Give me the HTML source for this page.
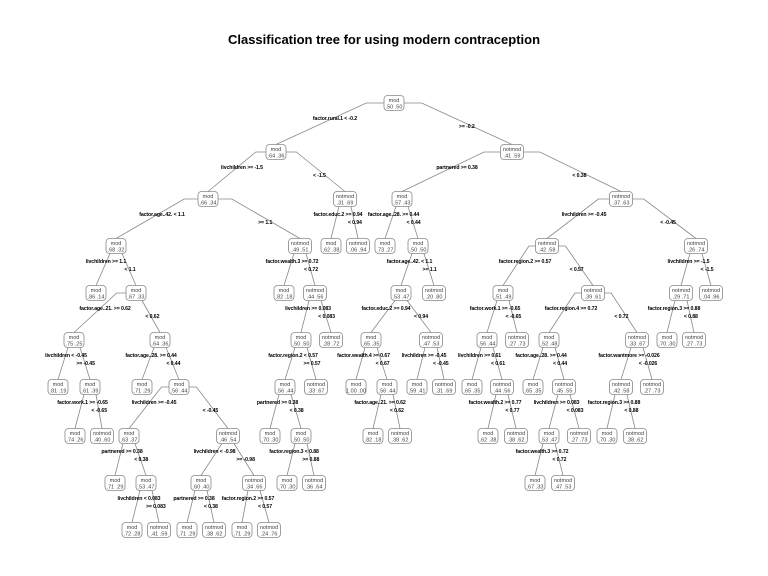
<!DOCTYPE html>
<html><head><meta charset="utf-8">
<style>
html,body{margin:0;padding:0;background:#fff;}
svg{display:block;}
.t{font-family:"Liberation Sans",sans-serif;font-weight:bold;font-size:13px;fill:#000;}
.n{font-family:"Liberation Sans",sans-serif;font-size:5.5px;fill:#444;}
.s{font-family:"Liberation Sans",sans-serif;font-size:5.2px;fill:#000;font-weight:bold;letter-spacing:-0.1px;}
</style></head>
<body>
<svg id="g" width="768" height="576" viewBox="0 0 768 576" xmlns="http://www.w3.org/2000/svg">
<rect width="768" height="576" fill="#fff"/>
<text class="t" x="384" y="44" text-anchor="middle">Classification tree for using modern contraception</text>
</svg>
<script>
function N(x,y,c,p,ll,rl,l,r){return {x:x,y:y,c:c,p:p,ll:ll,rl:rl,l:l,r:r};}
function L(x,y,c,p){return {x:x,y:y,c:c,p:p};}
var T=N(394,103,'mod','.50 .50','factor.rural.1 < -0.2','>= -0.2',
 N(276,152,'mod','.64 .36','livchildren >= -1.5','< -1.5',
  N(208,199,'mod','.66 .34','factor.age..42. < 1.1','>= 1.1',
   N(116,246,'mod','.68 .32','livchildren >= 1.1','< 1.1',
    L(96,293,'mod','.86 .14'),
    N(136,293,'mod','.67 .33','factor.age..21. >= 0.62','< 0.62',
     N(74,340,'mod','.75 .25','livchildren < -0.45','>= -0.45',
      L(58,387,'mod','.81 .19'),
      N(90,387,'mod','.61 .39','factor.work.1 >= -0.65','< -0.65',
       L(75,436,'mod','.74 .26'),L(102,436,'notmod','.40 .60'))),
     N(160,340,'mod','.64 .36','factor.age..28. >= 0.44','< 0.44',
      L(142,387,'mod','.71 .29'),
      N(179,387,'mod','.56 .44','livchildren >= -0.45','< -0.45',
       N(129,436,'mod','.63 .37','partnered >= 0.38','< 0.38',
        L(115,483,'mod','.71 .29'),
        N(146,483,'mod','.53 .47','livchildren < 0.083','>= 0.083',
         L(132,530,'mod','.72 .28'),L(159,530,'notmod','.41 .59'))),
       N(228,436,'notmod','.46 .54','livchildren < -0.98','>= -0.98',
        N(201,483,'mod','.60 .40','partnered >= 0.38','< 0.38',
         L(187,530,'mod','.71 .29'),L(214,530,'notmod','.38 .62')),
        N(254,483,'notmod','.34 .66','factor.region.2 >= 0.57','< 0.57',
         L(242,530,'mod','.71 .29'),L(269,530,'notmod','.24 .76'))))))),
   N(300,246,'notmod','.49 .51','factor.wealth.3 >= 0.72','< 0.72',
    L(284,293,'mod','.82 .18'),
    N(315,293,'notmod','.44 .56','livchildren >= 0.083','< 0.083',
     N(301,340,'mod','.50 .50','factor.region.2 < 0.57','>= 0.57',
      N(285,387,'mod','.56 .44','partnered >= 0.38','< 0.38',
       L(270,436,'mod','.70 .30'),
       N(301,436,'mod','.50 .50','factor.region.3 < 0.88','>= 0.88',
        L(287,483,'mod','.70 .30'),L(314,483,'notmod','.36 .64'))),
      L(316,387,'notmod','.33 .67')),
     L(331,340,'notmod','.28 .72')))),
  N(345,199,'notmod','.31 .69','factor.educ.2 >= 0.94','< 0.94',
   L(331,246,'mod','.62 .38'),L(358,246,'notmod','.06 .94'))),
 N(512,152,'notmod','.41 .59','partnered >= 0.38','< 0.38',
  N(402,199,'mod','.57 .43','factor.age..28. >= 0.44','< 0.44',
   L(385,246,'mod','.73 .27'),
   N(418,246,'mod','.50 .50','factor.age..42. < 1.1','>= 1.1',
    N(401,293,'mod','.53 .47','factor.educ.2 >= 0.94','< 0.94',
     N(371,340,'mod','.65 .35','factor.wealth.4 >= 0.67','< 0.67',
      L(356,387,'mod','1.00 .00'),
      N(387,387,'mod','.56 .44','factor.age..21. >= 0.62','< 0.62',
       L(373,436,'mod','.82 .18'),L(400,436,'notmod','.38 .62'))),
     N(431,340,'notmod','.47 .53','livchildren >= -0.45','< -0.45',
      L(417,387,'mod','.59 .41'),L(444,387,'notmod','.31 .69'))),
    L(434,293,'notmod','.20 .80'))),
  N(621,199,'notmod','.37 .63','livchildren >= -0.45','< -0.45',
   N(547,246,'notmod','.42 .58','factor.region.2 >= 0.57','< 0.57',
    N(503,293,'mod','.51 .49','factor.work.1 >= -0.65','< -0.65',
     N(487,340,'mod','.56 .44','livchildren >= 0.61','< 0.61',
      L(472,387,'mod','.65 .35'),
      N(502,387,'notmod','.44 .56','factor.wealth.2 >= 0.77','< 0.77',
       L(488,436,'mod','.62 .38'),L(516,436,'notmod','.38 .62'))),
     L(517,340,'notmod','.27 .73')),
    N(593,293,'notmod','.39 .61','factor.region.4 >= 0.72','< 0.72',
     N(549,340,'mod','.52 .48','factor.age..28. >= 0.44','< 0.44',
      L(533,387,'mod','.65 .35'),
      N(564,387,'notmod','.45 .55','livchildren >= 0.083','< 0.083',
       N(549,436,'mod','.53 .47','factor.wealth.3 >= 0.72','< 0.72',
        L(535,483,'mod','.67 .33'),L(563,483,'notmod','.47 .53')),
       L(579,436,'notmod','.27 .73'))),
     N(637,340,'notmod','.33 .67','factor.wantmore >= -0.026','< -0.026',
      N(621,387,'notmod','.42 .58','factor.region.3 >= 0.88','< 0.88',
       L(607,436,'mod','.70 .30'),L(635,436,'notmod','.38 .62')),
      L(652,387,'notmod','.27 .73')))),
   N(696,246,'notmod','.26 .74','livchildren >= -1.5','< -1.5',
    N(681,293,'notmod','.29 .71','factor.region.3 >= 0.88','< 0.88',
     L(667,340,'mod','.70 .30'),L(694,340,'notmod','.27 .73')),
    L(711,293,'notmod','.04 .96')))));
var NS='http://www.w3.org/2000/svg',g=document.getElementById('g');
var lines=document.createElementNS(NS,'g'),boxes=document.createElementNS(NS,'g'),labs=document.createElementNS(NS,'g');
g.appendChild(lines);g.appendChild(labs);g.appendChild(boxes);
function el(p,n,a,t){var e=document.createElementNS(NS,n);for(var k in a)e.setAttribute(k,a[k]);if(t!=null)e.textContent=t;p.appendChild(e);return e;}
function hw(n){return n.c=='mod'?10:11.5;}
function edge(p,c,s){var dx=c.x-p.x,pts;
 if(Math.abs(dx)<40){pts=[[p.x+s*6,p.y+7.5],[c.x,c.y-7.5]];}
 else{var x0=p.x+s*hw(p);pts=[[x0,p.y],[x0+s*0.15*Math.abs(dx),p.y],[c.x,c.y-7.5]];}
 el(lines,'polyline',{points:pts.map(function(q){return q.join(',')}).join(' '),fill:'none',stroke:'#888','stroke-width':0.8});}
function walk(n){
 if(n.l){edge(n,n.l,-1);edge(n,n.r,1);
  el(labs,'text',{'class':'s',x:(n.x+n.l.x)/2,y:n.y+17,'text-anchor':'middle'},n.ll);
  el(labs,'text',{'class':'s',x:(n.x+n.r.x)/2+Math.min(20,0.1*Math.abs(n.r.x-n.x)+2),y:n.y+25,'text-anchor':'middle'},n.rl);
  walk(n.l);walk(n.r);}
 var w=hw(n);
 el(boxes,'rect',{x:n.x-w,y:n.y-7.5,width:2*w,height:15,rx:3.5,fill:'#fff',stroke:'#888','stroke-width':0.8});
 el(boxes,'text',{'class':'n',x:n.x,y:n.y-1,'text-anchor':'middle'},n.c);
 el(boxes,'text',{'class':'n',x:n.x,y:n.y+5.5,'text-anchor':'middle'},n.p);}
walk(T);
</script>
</body></html>
